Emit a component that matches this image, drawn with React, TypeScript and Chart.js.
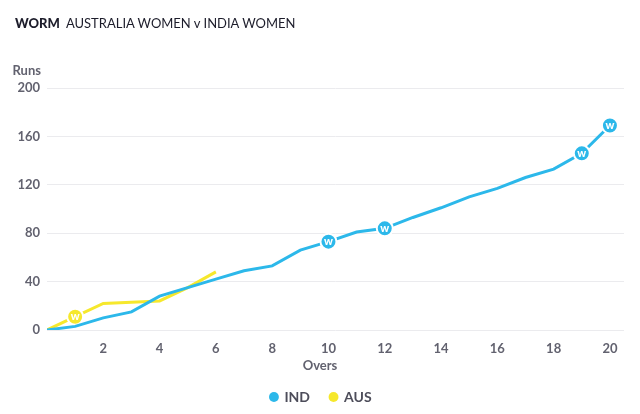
import { useEffect, useRef } from 'react';
import { Chart, registerables } from 'chart.js';

Chart.register(...registerables);

// Cumulative runs at the end of each over
const OVERS = [0, 1, 2, 3, 4, 5, 6, 7, 8, 9, 10, 11, 12, 13, 14, 15, 16, 17, 18, 19, 20];
const IND_RUNS = [0, 3, 10, 15, 28, 35, 42, 49, 53, 66, 73, 81, 84, 93, 101, 110, 117, 126, 133, 146, 169];
const AUS_RUNS = [0, 11, 22, 23, 24, 35, 48];
// Overs in which a wicket fell
const IND_WICKETS = [10, 12, 19, 20];
const AUS_WICKETS = [1];
const X_TICKS = [2, 4, 6, 8, 10, 12, 14, 16, 18, 20];
const Y_TICKS = [0, 40, 80, 120, 160, 200];

const IND_COLOR = '#2cb8ea';
const AUS_COLOR = '#f6e82c';
const TEXT_COLOR = '#62626f';
const FONT = 'Lato, "Open Sans", sans-serif';

const series = (runs: number[]) => runs.map((r, i) => ({ x: OVERS[i], y: r }));

const wicketLabels = {
  id: 'wicketLabels',
  // Chart.js counts the trailing item padding when centring the legend; nudge it back
  afterLayout(chart: any) {
    const legend = chart.legend;
    if (legend) {
      legend.left += 9;
      legend.right += 9;
    }
  },
  afterDatasetsDraw(chart: any) {
    const ctx = chart.ctx;
    ctx.save();
    ctx.fillStyle = '#ffffff';
    ctx.font = `900 11px ${FONT}`;
    ctx.textAlign = 'center';
    ctx.textBaseline = 'middle';
    chart.data.datasets.forEach((ds: any, di: number) => {
      const meta = chart.getDatasetMeta(di);
      ds.wickets.forEach((over: number) => {
        const pt = meta.data[over];
        if (pt) ctx.fillText('w', pt.x, pt.y);
      });
    });
    ctx.restore();
  },
  afterDraw(chart: any) {
    const ctx = chart.ctx;
    ctx.save();
    ctx.fillStyle = TEXT_COLOR;
    ctx.font = `bold 13px ${FONT}`;
    ctx.textBaseline = 'middle';
    ctx.textAlign = 'right';
    ctx.fillText('Runs', 41, 71);
    ctx.textAlign = 'center';
    ctx.fillText('Overs', chart.width / 2, 366);
    ctx.restore();
  },
};

export default function App() {
  const canvasRef = useRef<HTMLCanvasElement | null>(null);

  useEffect(() => {
    document.body.style.margin = '0';
    const canvas = canvasRef.current;
    if (!canvas) return;
    const makeDataset = (label: string, runs: number[], wickets: number[], color: string) => ({
      label,
      data: series(runs),
      wickets,
      borderColor: color,
      backgroundColor: color,
      borderWidth: 3,
      tension: 0,
      pointRadius: (c: any) => (wickets.includes(c.dataIndex) ? 8 : 0),
      pointHoverRadius: (c: any) => (wickets.includes(c.dataIndex) ? 8 : 0),
      pointBackgroundColor: color,
      pointBorderColor: '#ffffff',
      pointBorderWidth: 2,
    });
    const chart = new Chart(canvas, {
      type: 'line',
      data: {
        datasets: [
          makeDataset('IND', IND_RUNS, IND_WICKETS, IND_COLOR),
          makeDataset('AUS', AUS_RUNS, AUS_WICKETS, AUS_COLOR),
        ] as any,
      },
      options: {
        animation: false,
        responsive: false,
        layout: { padding: { top: 88, right: 16, left: 0, bottom: 0 } },
        plugins: {
          legend: {
            position: 'bottom',
            labels: {
              usePointStyle: true,
              pointStyle: 'circle',
              boxWidth: 7,
              boxHeight: 7,
              padding: 20,
              color: '#4d4d5a',
              font: { family: FONT, size: 14, weight: 'bold' },
              generateLabels: (ch: any) =>
                ch.data.datasets.map((ds: any, i: number) => ({
                  text: ds.label,
                  fillStyle: ds.borderColor,
                  strokeStyle: ds.borderColor,
                  lineWidth: 0,
                  pointStyle: 'circle',
                  fontColor: '#4d4d5a',
                  datasetIndex: i,
                  hidden: false,
                })),
            },
          },
          tooltip: { enabled: false },
        },
        scales: {
          x: {
            type: 'linear',
            min: 0,
            max: 20.5,
            afterBuildTicks: (scale: any) => {
              scale.ticks = X_TICKS.map((v) => ({ value: v }));
            },
            afterFit: (scale: any) => {
              scale.height = 40;
            },
            grid: { display: false },
            border: { display: false },
            ticks: {
              color: TEXT_COLOR,
              padding: 3,
              maxRotation: 0,
              font: { family: FONT, size: 13, weight: 'bold' },
            },
          },
          y: {
            min: 0,
            max: 200,
            afterBuildTicks: (scale: any) => {
              scale.ticks = Y_TICKS.map((v) => ({ value: v }));
            },
            afterFit: (scale: any) => {
              scale.width = 47;
            },
            grid: { color: '#ebebee', lineWidth: 1, drawTicks: false },
            border: { display: false },
            ticks: {
              color: TEXT_COLOR,
              padding: 7,
              font: { family: FONT, size: 13, weight: 'bold' },
            },
          },
        },
      },
      plugins: [wicketLabels],
    });
    return () => chart.destroy();
  }, []);

  return (
    <div style={{ position: 'relative', width: 640, height: 414, background: '#ffffff' }}>
      <div
        style={{
          position: 'absolute',
          left: 15,
          top: 15,
          fontFamily: FONT,
          fontSize: 13,
          color: '#1d1d2b',
          whiteSpace: 'nowrap',
        }}
      >
        <span style={{ fontWeight: 900, marginRight: 6 }}>WORM</span>
        <span>AUSTRALIA WOMEN v INDIA WOMEN</span>
      </div>
      <canvas ref={canvasRef} width={640} height={414} style={{ display: 'block' }} />
    </div>
  );
}
